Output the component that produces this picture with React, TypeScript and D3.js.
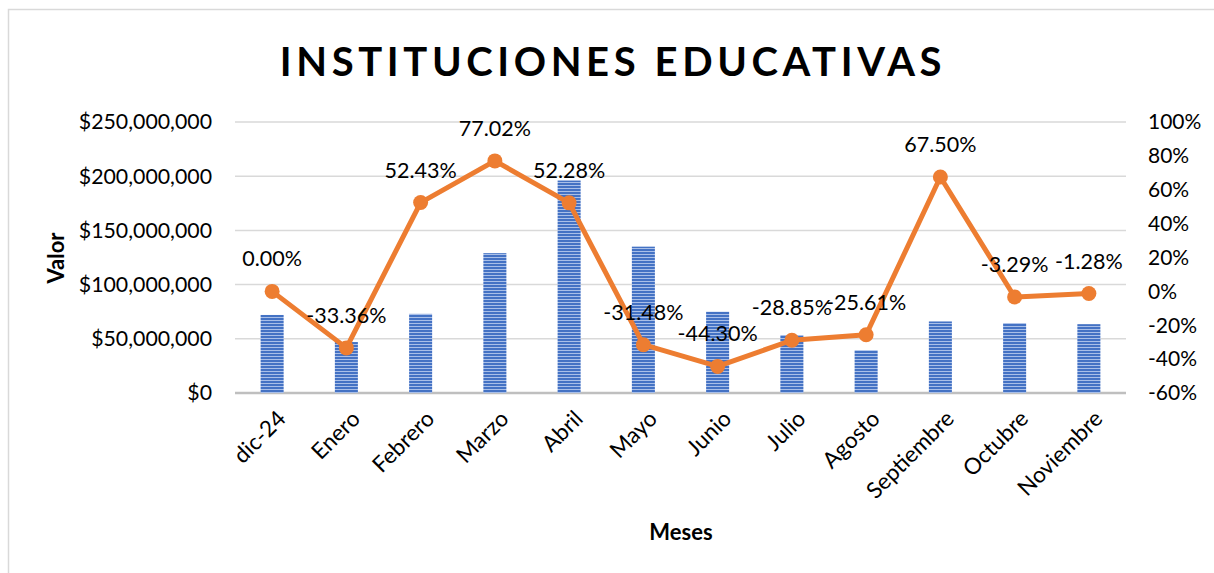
import React from "react";
import * as d3 from "d3";

const months = ["dic-24", "Enero", "Febrero", "Marzo", "Abril", "Mayo", "Junio", "Julio", "Agosto", "Septiembre", "Octubre", "Noviembre"];
const valores = [72e6, 47e6, 73e6, 129e6, 196e6, 135e6, 75e6, 53.5e6, 39.5e6, 66e6, 64.5e6, 63.5e6];
const variacion = [0, -33.36, 52.43, 77.02, 52.28, -31.48, -44.3, -28.85, -25.61, 67.5, -3.29, -1.28];
const leftTicks = [0, 50e6, 100e6, 150e6, 200e6, 250e6];
const rightTicks = [-60, -40, -20, 0, 20, 40, 60, 80, 100];

const FONT = "Lato, 'Open Sans', sans-serif";

export default function App() {
  const W = 1214;
  const H = 573;
  const left = 235, right = 1126, top = 122, bottom = 393;

  const x = d3.scaleBand<string>().domain(months).range([left, right]).padding(0);
  const yL = d3.scaleLinear().domain([0, 250e6]).range([bottom, top]);
  const yR = d3.scaleLinear().domain([-60, 100]).range([bottom, top]);
  const barW = x.bandwidth() * 0.31;
  const cx = (m: string) => (x(m) as number) + x.bandwidth() / 2;

  const money = (v: number) => "$" + d3.format(",")(v);

  const line = d3
    .line<number>()
    .x((_, i) => cx(months[i]))
    .y((d) => yR(d));

  return (
    <svg width={W} height={H} style={{ position: "absolute", left: 0, top: 0, background: "#fff" }}>
      <defs>
        <pattern id="stripes" width="6" height="3" patternUnits="userSpaceOnUse">
          <rect width="6" height="3" fill="#4472c4" />
          <rect y="2" width="6" height="1" fill="#a9bfe8" />
        </pattern>
      </defs>
      {/* chart frame */}
      <rect x={8.5} y={9.5} width={W + 20} height={H + 20} fill="#fff" stroke="#d9d9d9" strokeWidth={1.5} />

      <text x={613} y={76} textAnchor="middle" fontFamily={FONT} fontWeight="bold" fontSize={40} letterSpacing={4.6} fill="#000">
        INSTITUCIONES EDUCATIVAS
      </text>

      {/* gridlines */}
      {leftTicks.map((t) => (
        <line key={t} x1={left} x2={right} y1={yL(t)} y2={yL(t)} stroke="#d9d9d9" strokeWidth={1.5} />
      ))}
      <line x1={left} x2={right} y1={bottom} y2={bottom} stroke="#bfbfbf" strokeWidth={2.5} />

      {/* left axis labels */}
      {leftTicks.map((t) => (
        <text key={t} x={212} y={yL(t)} dy="0.35em" textAnchor="end" fontFamily={FONT} fontSize={21.3} fill="#000">
          {money(t)}
        </text>
      ))}
      {/* right axis labels */}
      {rightTicks.map((t) => (
        <text key={t} x={1148} y={yR(t)} dy="0.35em" textAnchor="start" fontFamily={FONT} fontSize={21} fill="#000">
          {t + "%"}
        </text>
      ))}

      {/* bars */}
      {months.map((m, i) => (
        <rect key={m} x={cx(m) - barW / 2} y={yL(valores[i])} width={barW} height={bottom - yL(valores[i])} fill="url(#stripes)" />
      ))}

      {/* line */}
      <path d={line(variacion) || ""} fill="none" stroke="#ed7d31" strokeWidth={5} strokeLinejoin="round" />
      {variacion.map((v, i) => (
        <circle key={i} cx={cx(months[i])} cy={yR(v)} r={7.5} fill="#ed7d31" />
      ))}
      {variacion.map((v, i) => (
        <text key={"l" + i} x={cx(months[i])} y={yR(v) - 25} textAnchor="middle" fontFamily={FONT} fontSize={21.5} fill="#000">
          {v.toFixed(2) + "%"}
        </text>
      ))}

      {/* x labels */}
      {months.map((m) => (
        <text
          key={m}
          transform={`translate(${cx(m) + 4},${409}) rotate(-45)`}
          textAnchor="end"
          dy="0.7em"
          fontFamily={FONT}
          fontSize={22.5}
          fill="#000"
        >
          {m}
        </text>
      ))}

      <text x={681} y={540} textAnchor="middle" fontFamily={FONT} fontWeight="bold" fontSize={22} fill="#000">
        Meses
      </text>
      <text transform={`translate(64,258) rotate(-90)`} textAnchor="middle" fontFamily={FONT} fontWeight="bold" fontSize={22} fill="#000">
        Valor
      </text>
    </svg>
  );
}
